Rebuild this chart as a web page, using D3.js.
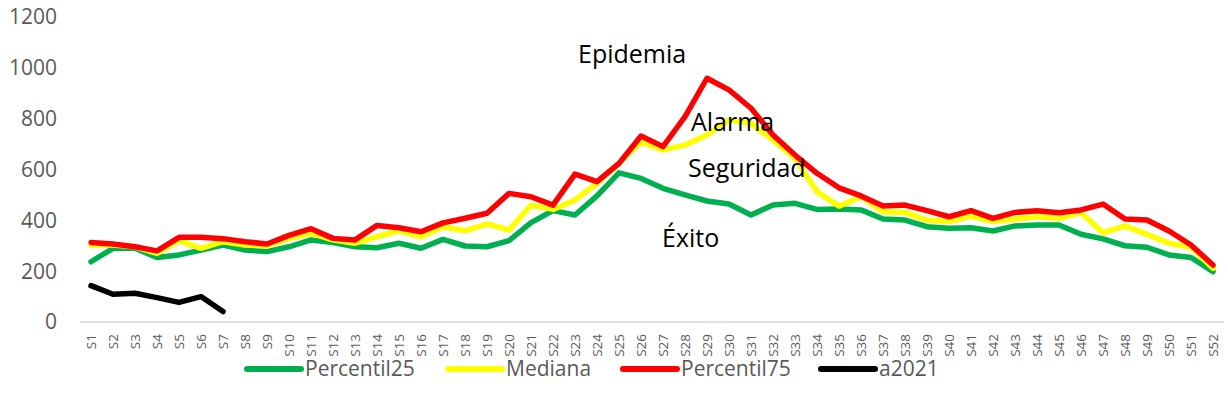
<!DOCTYPE html>
<html><head><meta charset="utf-8">
<script src="https://cdn.jsdelivr.net/npm/d3@7"></script>
<style>
html,body{margin:0;padding:0;background:#fff;}
svg{display:block;}
</style></head>
<body>
<svg id="chart" width="1228" height="410"></svg>
<script>
const weeks = Array.from({length:52},(_,i)=>"S"+(i+1));
const percentil25 = [237,290,290,254,264,283,303,283,277,296,323,313,296,292,310,290,325,299,296,320,391,438,421,496,587,565,526,500,476,464,421,460,467,443,445,441,405,401,375,369,371,358,378,382,382,345,327,300,294,264,254,198];
const mediana = [303,303,296,270,320,290,316,303,299,329,349,323,310,336,359,335,375,359,386,362,460,443,480,546,624,709,677,696,736,795,782,716,644,513,456,493,434,431,401,395,417,395,405,414,408,430,351,378,345,310,294,211];
const percentil75 = [313,307,296,280,333,333,328,316,307,341,367,329,323,380,371,355,390,408,428,506,493,460,582,552,624,732,690,808,959,913,841,736,657,585,528,496,456,460,438,414,438,408,431,438,430,441,464,405,401,358,303,224];
const a2021 = [143,109,113,96,77,100,41];
const yTicks = [0,200,400,600,800,1000,1200];
const seriesNames = ["Percentil25","Mediana","Percentil75","a2021"];
const seriesColors = ["#00b050","#ffff00","#ff0000","#000000"];
const zoneLabels = [
  {text:"Epidemia", x:"S23", dx:3, v:1019},
  {text:"Alarma", x:"S28", dx:6, v:750},
  {text:"Seguridad", x:"S28", dx:3, v:570},
  {text:"Éxito", x:"S27", dx:-1, v:295}
];

const svg = d3.select("#chart");
const x = d3.scaleBand().domain(weeks).range([80,1224]).padding(0);
const y = d3.scaleLinear().domain([0,1200]).range([322,17]);
const cx = d => x(d) + x.bandwidth()/2;

// y tick labels
svg.append("g").selectAll("text").data(yTicks).join("text")
  .attr("x",57).attr("y",d=>y(d)).attr("dy","0.35em")
  .attr("text-anchor","end")
  .style("font-family","'Open Sans',sans-serif").style("font-size","21px").attr("fill","#595959")
  .text(d=>d);

// x axis line
svg.append("line").attr("x1",80).attr("x2",1224).attr("y1",y(0)).attr("y2",y(0))
  .attr("stroke","#d9d9d9").attr("stroke-width",1.5);

// x tick labels
svg.append("g").selectAll("text").data(weeks).join("text")
  .attr("transform",d=>`translate(${cx(d)},334) rotate(-90)`)
  .attr("text-anchor","end").attr("dy","0.35em")
  .style("font-family","'Open Sans',sans-serif").style("font-size","13.5px").attr("fill","#595959")
  .text(d=>d);

const line = d3.line().x((d,i)=>cx(weeks[i])).y(d=>y(d));
const allSeries = [percentil25, mediana, percentil75, a2021];
allSeries.forEach((s,k)=>{
  svg.append("path").datum(s).attr("d",line)
    .attr("fill","none").attr("stroke",seriesColors[k]).attr("stroke-width",5.5)
    .attr("stroke-linejoin","round").attr("stroke-linecap","round");
});

// zone labels
svg.append("g").selectAll("text").data(zoneLabels).join("text")
  .attr("x",d=>cx(d.x)+d.dx).attr("y",d=>y(d.v))
  .style("font-family","'Open Sans',sans-serif").style("font-size","25px").attr("fill","#000")
  .text(d=>d.text);

// legend
const legendX = [247,448,623,821];
const lg = svg.append("g").selectAll("g").data(seriesNames).join("g")
  .attr("transform",(d,i)=>`translate(${legendX[i]},369)`);
lg.append("line").attr("x1",0).attr("x2",54).attr("y1",0).attr("y2",0)
  .attr("stroke",(d,i)=>seriesColors[i]).attr("stroke-width",6).attr("stroke-linecap","round");
lg.append("text").attr("x",58).attr("y",0).attr("dy","0.35em")
  .style("font-family","'Open Sans',sans-serif").style("font-size","21px").attr("fill","#595959")
  .text(d=>d);
</script>
</body></html>
